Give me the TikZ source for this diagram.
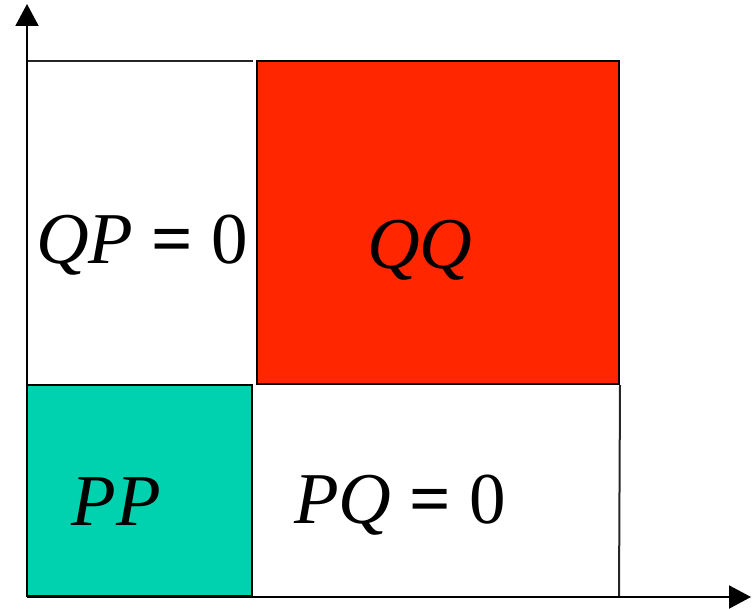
\documentclass[tikz,border=0pt]{standalone}
\usepackage{fontspec}
\setmainfont{Liberation Serif}
\usepackage{xcolor}
\usetikzlibrary{arrows.meta,positioning}

\definecolor{blockred}{HTML}{FF2600}
\definecolor{blockgreen}{HTML}{00D2AF}

\begin{document}
\begin{tikzpicture}[
    x=1pt, y=-1pt,
    block/.style={rectangle, draw=black, line width=2pt, inner sep=0pt},
    axis/.style={line width=2pt, -{Triangle[width=23pt, length=22pt]}},
    frame/.style={line width=2pt, draw=black!85},
    lbl/.style={font=\fontsize{73}{80}\selectfont, inner sep=0pt, anchor=base}
]
    \useasboundingbox (0,0) rectangle (755,610);

    % blocks
    \node[block, fill=blockred, minimum width=362pt, minimum height=323pt] (qq) at (438,222.5) {};
    \node[block, fill=blockgreen, minimum width=225pt, minimum height=211pt] (pp) at (139.5,490.5) {};

    % axes and frame
    \coordinate (origin) at (27,597);
    \coordinate (ytip) at (27,4);
    \coordinate (xtip) at (751,597);
    \coordinate (topleft) at (27,61);
    \coordinate (botright) at (619,597);
    \draw[frame] (topleft) -- (pp.north east |- topleft);
    \draw[frame] (qq.south east) -- (botright);
    \draw[axis] (origin) -- (ytip);
    \draw[axis] (origin) -- (xtip);

    % labels
    \node[lbl] (qplabel) at (142,263) {\textit{QP} \textbf{=} 0};
    \node[lbl] (qqlabel) at (420,268) {\textit{QQ}};
    \node[lbl] (pplabel) at (116,525) {\textit{PP}};
    \node[lbl] (pqlabel) at (400,523) {\textit{PQ} \textbf{=} 0};
\end{tikzpicture}
\end{document}
